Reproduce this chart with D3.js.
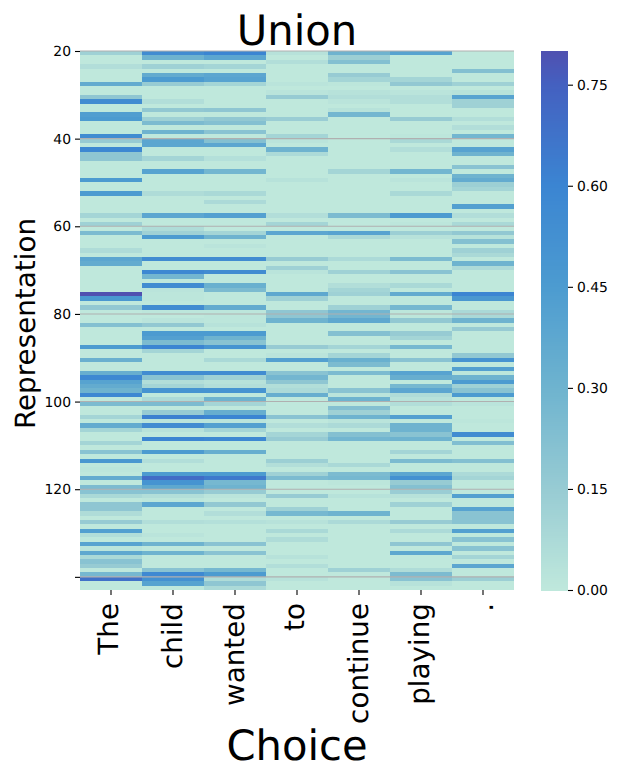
<!DOCTYPE html>
<html>
<head>
<meta charset="utf-8">
<script src="https://cdn.jsdelivr.net/npm/d3@7"></script>
<style>
  html, body { margin: 0; padding: 0; background: #fff; }
  text { font-family: "DejaVu Sans", sans-serif; fill: #000; text-rendering: geometricPrecision; }
</style>
</head>
<body>
<svg id="chart" width="618" height="778"></svg>
<script>
// Attention weight per token, one array per column, rows run 20..142
const tokens = ["The", "child", "wanted", "to", "continue", "playing", "."];
const firstRow = 20;
const rowTicks = [20, 40, 60, 80, 100, 120, 140];
const rowLabels = ["20", "40", "60", "80", "100", "120", ""];
const barTicks = [0, 0.15, 0.30, 0.45, 0.60, 0.75];
const colorStops = [0, 0.15, 0.30, 0.45, 0.60, 0.75, 0.80];
const colorValues = ["#bfe8dc", "#97cbd3", "#6eb3cf", "#4c9bd0", "#3b85d2", "#4460c0", "#5050b0"];

const colThe = [
  .12,0,0,.05,0,0,0,.35,0,0,
  .18,.55,0,0,.43,.45,0,0,0,.55,
  .15,0,.58,.18,.18,0,0,0,0,.45,
  0,0,.45,0,0,0,0,.1,0,.12,
  0,.25,0,0,0,.06,0,.38,.35,0,
  0,0,0,0,0,.8,.47,0,.17,0,
  0,0,.22,0,0,0,0,.45,0,0,
  .32,0,0,.33,.58,.4,.35,.3,.58,0,
  .25,0,0,.1,0,.35,.1,0,0,.1,
  0,.2,0,.47,0,.01,0,.35,0,.25,
  .2,.08,0,.18,.18,.06,0,.15,0,.42,
  .05,0,.4,.02,.37,.08,.2,.15,0,.27,
  .68,0,0];
const colChild = [
  .55,.3,0,.12,0,.35,.45,.15,0,0,
  0,.05,0,.17,0,.12,.25,0,.3,0,
  .38,.38,0,0,.1,0,0,.4,0,0,
  0,0,.06,0,0,0,0,.38,0,0,
  .06,.12,.45,0,0,0,0,.55,0,0,
  .58,.28,0,.55,.02,.01,.01,0,.55,.01,
  0,.02,.17,0,.45,.42,.25,.6,.1,0,
  0,0,0,.55,.2,.05,.1,.5,0,.07,
  .25,0,.15,.62,.02,.55,.03,0,.6,0,
  0,.45,0,.05,0,0,.45,.7,.5,.37,
  .2,.05,.01,.38,0,0,0,.05,0,0,
  .02,0,.3,0,.3,0,0,0,.2,.57,
  .52,.4,0];
const colWanted = [
  .6,.38,0,.1,0,.38,.4,.1,0,0,
  0,0,0,.18,0,.17,.22,0,.2,0,
  .22,.38,0,0,.04,0,0,.28,0,0,
  0,0,.08,0,.07,0,0,.42,0,0,
  0,.1,.3,0,.02,0,0,.55,0,0,
  .55,0,0,.32,.25,0,0,0,.35,.01,
  .01,.01,.03,0,.45,.3,.2,.5,0,0,
  .08,0,0,.55,.12,.03,.05,.5,0,.3,
  .1,0,.33,.6,.02,.42,.1,0,.58,0,
  0,.33,0,0,0,0,.45,.65,.27,.3,
  .15,.02,0,.17,0,.05,0,.04,0,0,
  0,0,.2,0,.2,0,0,0,.27,.45,
  .06,.18,.07];
const colTo = [
  .03,0,.05,0,0,0,0,.02,0,.02,
  .15,0,0,0,0,.14,0,0,0,.1,
  .02,0,.3,.07,0,0,0,0,0,.03,
  0,0,0,0,0,0,0,.05,0,.1,
  0,.38,0,0,0,0,0,.15,0,.12,
  .02,0,0,0,0,.37,.12,0,0,.18,
  .18,.3,0,0,0,0,0,.15,0,.02,
  .42,0,0,.2,.28,.18,.05,.07,.33,0,
  0,0,0,.2,0,.05,0,.1,.15,0,
  0,0,0,.13,.05,0,.12,.25,0,0,
  0,.15,0,0,.12,.27,0,.03,0,.08,
  0,.06,0,0,0,.03,0,.05,0,0,
  .03,0,0];
const colContinue = [
  .3,.13,.22,0,0,.15,.1,.01,0,.03,
  .05,.02,0,.03,.28,0,0,0,0,0,
  0,0,0,0,0,0,0,.1,0,0,
  0,0,0,0,0,0,0,.25,0,0,
  0,.4,.08,0,0,0,0,.07,0,0,
  .12,0,0,.05,.1,.12,0,0,.12,.28,
  .28,.37,0,0,.22,0,0,.1,0,.1,
  .32,.25,0,.25,0,0,0,.2,.02,.3,
  0,.22,.12,.3,.02,.07,0,.22,.28,0,
  0,0,0,0,.08,0,.25,.27,.01,0,
  0,.03,0,0,0,.3,0,.07,0,0,
  0,0,0,0,0,0,0,0,.12,0,
  0,0,0];
const colPlaying = [
  .4,0,0,0,0,0,.1,.17,0,.02,
  .05,.05,0,0,0,.15,0,0,0,.01,
  .08,0,.05,0,0,0,0,.28,0,.02,
  0,0,.08,0,0,0,0,.45,0,.01,
  0,.13,.03,0,0,0,0,.25,0,0,
  .2,0,0,.08,0,.35,0,0,.27,.01,
  .01,.17,0,0,.15,.1,0,.27,0,0,
  .2,0,0,.4,.33,0,.27,.38,.06,.03,
  .05,0,0,.42,0,.3,.3,.2,.3,0,
  0,.1,0,.25,0,0,.38,.52,.15,.22,
  .14,.03,0,.12,0,0,0,.15,0,.07,
  0,0,.18,0,.37,0,0,0,.06,.25,
  .2,.03,0];
const colPeriod = [
  0,0,0,0,.22,0,0,.12,0,.03,
  .4,.12,.12,0,0,.05,0,.05,0,.28,
  0,0,.4,.3,0,0,.2,0,.3,.35,
  .13,.1,0,0,0,.42,0,.05,0,.08,
  0,.17,.03,.22,0,.12,.08,0,.3,.07,
  0,0,0,0,0,.6,.47,0,0,.08,
  .08,.3,0,.15,0,0,0,0,0,.17,
  .5,0,.42,.01,.3,.45,.12,.2,.45,0,
  .02,0,0,0,.01,0,0,.55,0,.23,
  0,0,0,.22,0,0,.07,.1,0,0,
  0,.42,0,0,.4,.2,.2,.2,0,.42,
  0,.2,0,.2,0,.1,0,.38,0,0,
  .13,0,0];

const columns = [colThe, colChild, colWanted, colTo, colContinue, colPlaying, colPeriod];

const plot = { left: 80, right: 514, top: 51, bottom: 590 };
const bar = { left: 541, right: 568 };
// Rotated token labels centre on their own glyph box, so each sits a little differently
const tokenShift = [7, 9, 8.7, 6.7, 9, 7.6, 10];

const svg = d3.select("#chart");
const rowCount = colThe.length;

const x = d3.scaleBand().domain(tokens).range([plot.left, plot.right]);
const y = d3.scaleLinear().domain([firstRow, firstRow + rowCount]).range([plot.top, plot.bottom]);
const color = d3.scaleLinear().domain(colorStops).range(colorValues).interpolate(d3.interpolateRgb).clamp(true);

// Heatmap cells
const cells = svg.append("g").attr("shape-rendering", "crispEdges");
tokens.forEach((tok, c) => {
  cells.selectAll(null)
    .data(columns[c])
    .join("rect")
    .attr("x", x(tok))
    .attr("width", x.bandwidth())
    .attr("y", (d, i) => y(firstRow + i))
    .attr("height", (d, i) => y(firstRow + i + 1) - y(firstRow + i))
    .attr("fill", d => color(d));
});

// Horizontal grid lines at the row ticks
svg.append("g").selectAll("line")
  .data(rowTicks)
  .join("line")
  .attr("x1", plot.left).attr("x2", plot.right)
  .attr("y1", d => y(d)).attr("y2", d => y(d))
  .attr("stroke", "#b0b0b0")
  .attr("stroke-width", 1.1);

// Row axis; the last tick carries no label
const yAxis = svg.append("g")
  .attr("transform", `translate(${plot.left},0)`)
  .call(d3.axisLeft(y).tickValues(rowTicks)
    .tickFormat((d, i) => rowLabels[i]).tickSize(5).tickPadding(4));
yAxis.select(".domain").remove();
yAxis.selectAll("text").style("font-size", "13.9px");
yAxis.selectAll("line").attr("stroke", "#000").attr("stroke-width", 1.1);

// Token axis with rotated labels
const xAxis = svg.append("g")
  .attr("transform", `translate(0,${plot.bottom})`)
  .call(d3.axisBottom(x).tickSize(5));
xAxis.select(".domain").remove();
xAxis.selectAll("line").attr("stroke", "#000").attr("stroke-width", 1.1);
xAxis.selectAll("text")
  .style("font-size", "27.8px")
  .attr("text-anchor", "end")
  .attr("dy", null)
  .attr("transform", "rotate(-90)")
  .attr("x", -13)
  .attr("y", (d, i) => tokenShift[i]);

// Colour bar
const barScale = d3.scaleLinear().domain([0, 0.8]).range([plot.bottom, plot.top]);
const steps = d3.range(256).map(i => i / 256 * 0.8);
svg.append("g").attr("shape-rendering", "crispEdges")
  .selectAll("rect")
  .data(steps)
  .join("rect")
  .attr("x", bar.left)
  .attr("width", bar.right - bar.left)
  .attr("y", d => barScale(d + 0.8 / 256))
  .attr("height", (plot.bottom - plot.top) / 256 + 0.5)
  .attr("fill", d => color(d));

const barAxis = svg.append("g")
  .attr("transform", `translate(${bar.right},0)`)
  .call(d3.axisRight(barScale).tickValues(barTicks).tickFormat(d3.format(".2f")).tickSize(5).tickPadding(4));
barAxis.select(".domain").remove();
barAxis.selectAll("text").style("font-size", "13.9px");
barAxis.selectAll("line").attr("stroke", "#000").attr("stroke-width", 1.1);

// Titles
svg.append("text")
  .attr("x", (plot.left + plot.right) / 2)
  .attr("y", 45)
  .attr("text-anchor", "middle")
  .style("font-size", "41.7px")
  .text("Union");

svg.append("text")
  .attr("x", (plot.left + plot.right) / 2)
  .attr("y", 760)
  .attr("text-anchor", "middle")
  .style("font-size", "41.7px")
  .text("Choice");

svg.append("text")
  .attr("transform", `translate(35,${(plot.top + plot.bottom) / 2 + 3}) rotate(-90)`)
  .attr("text-anchor", "middle")
  .style("font-size", "27.8px")
  .text("Representation");
</script>
</body>
</html>
